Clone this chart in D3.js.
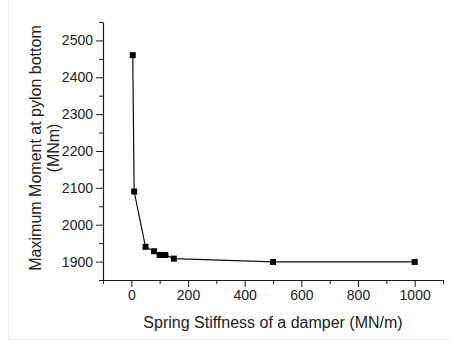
<!DOCTYPE html>
<html>
<head>
<meta charset="utf-8">
<script src="https://cdn.jsdelivr.net/npm/d3@7"></script>
<style>
  body { margin: 0; background: #fff; }
  svg { display: block; font-family: "Liberation Sans", Arial, sans-serif; }
</style>
</head>
<body>
<div id="chart"></div>
<script>
// Spring stiffness of a damper (MN/m)
const stiffness = [5, 10, 50, 80, 100, 110, 120, 150, 500, 1000];
// Maximum moment at pylon bottom (MNm)
const moment = [2460, 2090, 1940, 1928, 1918, 1918, 1918, 1908, 1899, 1899];
const xTicks = [0, 200, 400, 600, 800, 1000];
const yTicks = [1900, 2000, 2100, 2200, 2300, 2400, 2500];

const width = 451, height = 349;
const margin = {top: 22, right: 8, bottom: 69, left: 103};
const innerW = width - margin.left - margin.right;
const innerH = height - margin.top - margin.bottom;
const ink = "#1a1a1a";

const svg = d3.select("#chart").append("svg")
  .attr("width", width)
  .attr("height", height);

// faint frame of the scanned figure
svg.append("rect")
  .attr("x", 8.5).attr("y", -1)
  .attr("width", width).attr("height", 340.5)
  .attr("fill", "none")
  .attr("stroke", "#efefef");

const g = svg.append("g")
  .attr("transform", "translate(" + margin.left + "," + margin.top + ")");

const xScale = d3.scaleLinear().domain([-100, 1100]).range([0, innerW]);
const yScale = d3.scaleLinear().domain([1850, 2550]).range([innerH, 0]);

//Minor ticks first, then major axes on top
g.append("g")
  .attr("transform", "translate(0," + innerH + ")")
  .call(d3.axisBottom(xScale).tickValues(d3.range(-100, 1101, 200)).tickSize(4).tickFormat(""))
  .call(ax => ax.select(".domain").remove())
  .selectAll("line").attr("stroke", ink);
g.append("g")
  .call(d3.axisLeft(yScale).tickValues(d3.range(1850, 2551, 100)).tickSize(4).tickFormat(""))
  .call(ax => ax.select(".domain").remove())
  .selectAll("line").attr("stroke", ink);

const xAxis = g.append("g")
  .attr("transform", "translate(0," + innerH + ")")
  .call(d3.axisBottom(xScale).tickValues(xTicks).tickSize(7).tickSizeOuter(0).tickPadding(3).tickFormat(d3.format("d")));
const yAxis = g.append("g")
  .call(d3.axisLeft(yScale).tickValues(yTicks).tickSize(7).tickSizeOuter(0).tickPadding(3).tickFormat(d3.format("d")));

[xAxis, yAxis].forEach(ax => {
  ax.select(".domain").attr("stroke", ink).attr("stroke-width", 1.2);
  ax.selectAll("line").attr("stroke", ink);
  ax.selectAll("text").attr("fill", "#222").style("font-size", "14px");
});

//Axis titles
svg.append("text")
  .attr("x", margin.left + xScale(500))
  .attr("y", 328)
  .attr("text-anchor", "middle")
  .attr("fill", "#222")
  .style("font-size", "16px")
  .text("Spring Stiffness of a damper (MN/m)");

const yTitle = svg.append("text")
  .attr("transform", "translate(40.5,148) rotate(-90)")
  .attr("text-anchor", "middle")
  .attr("fill", "#222")
  .style("font-size", "16px");
yTitle.append("tspan").attr("x", 0).attr("dy", 0).text("Maximum Moment at pylon bottom");
yTitle.append("tspan").attr("x", 0).attr("dy", 18).text("(MNm)");

//Data line and square markers
const points = stiffness.map((s, i) => ({x: s, y: moment[i]}));
const line = d3.line()
  .x(d => xScale(d.x))
  .y(d => yScale(d.y));
g.append("path")
  .attr("d", line(points))
  .attr("fill", "none")
  .attr("stroke", "#111")
  .attr("stroke-width", 1.2);

const ms = 6;
g.selectAll("rect.marker")
  .data(points)
  .enter().append("rect")
  .attr("class", "marker")
  .attr("x", d => xScale(d.x) - ms / 2)
  .attr("y", d => yScale(d.y) - ms / 2)
  .attr("width", ms)
  .attr("height", ms)
  .attr("fill", "#000");
</script>
</body>
</html>
